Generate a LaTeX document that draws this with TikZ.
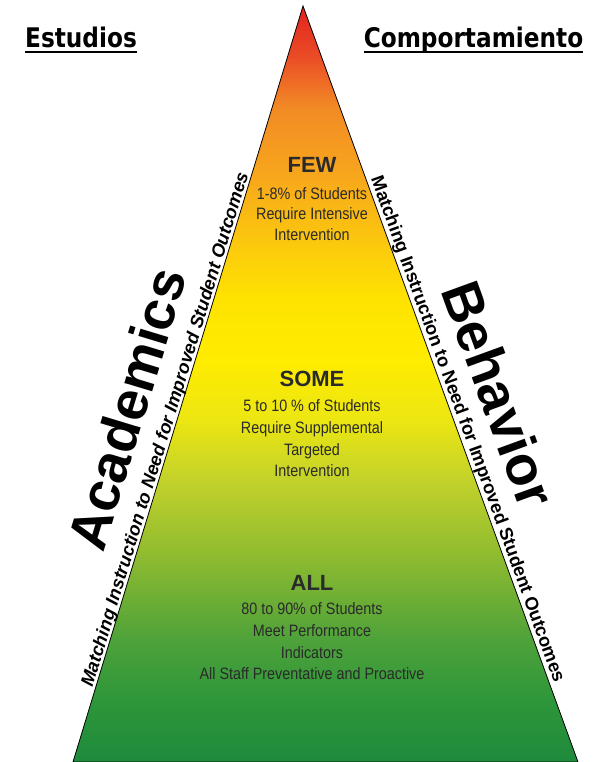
\documentclass[tikz,border=0pt]{standalone}
\usepackage{fontspec}
\setmainfont{Liberation Sans}
\newfontfamily\headfont{DejaVu Sans}
\usetikzlibrary{calc}
\definecolor{txt}{HTML}{2A2A2A}
\definecolor{c00}{HTML}{1E8A3C}
\definecolor{c01}{HTML}{2E963A}
\definecolor{c02}{HTML}{4EA23A}
\definecolor{c03}{HTML}{8CBA30}
\definecolor{c04}{HTML}{C3D22A}
\definecolor{c05}{HTML}{ECE612}
\definecolor{c06}{HTML}{FFEC00}
\definecolor{c07}{HTML}{FEE300}
\definecolor{c08}{HTML}{FBC70E}
\definecolor{c09}{HTML}{F7A41D}
\definecolor{c10}{HTML}{F28A25}
\definecolor{c11}{HTML}{EA4A26}
\definecolor{c12}{HTML}{E2231E}
\pgfdeclareverticalshading{pyr}{100bp}{color(0bp)=(c00); color(25bp)=(c00); color(29.1bp)=(c01); color(33.1bp)=(c02); color(38.4bp)=(c03); color(43.7bp)=(c04); color(47.6bp)=(c05); color(51.6bp)=(c06); color(55.6bp)=(c07); color(59.5bp)=(c08); color(64.2bp)=(c09); color(68.3bp)=(c10); color(71.8bp)=(c11); color(75bp)=(c12); color(100bp)=(c12)}
\begin{document}
\begin{tikzpicture}[x=1pt,y=-1pt,
  hdr/.style={font=\headfont\bfseries\fontsize{27}{27}\selectfont, inner sep=0, anchor=base, xscale=0.86},
  uline/.style={line width=2.4pt},
  ttl/.style={font=\bfseries\fontsize{22}{22}\selectfont, text=txt, inner sep=0},
  body/.style={font=\fontsize{16.5}{21.7}\selectfont, align=center, text=txt, xscale=0.87, inner sep=0},
  big/.style={font=\bfseries\fontsize{55}{55}\selectfont, inner sep=0, anchor=base},
  side/.style={font=\bfseries\fontsize{18.3}{18.3}\selectfont, inner sep=0, anchor=base},
  edge/.style={draw=black, line width=0.8pt}]
\fill[white] (0,0) rectangle (602,762);
\useasboundingbox (0,0) rectangle (602,762);
\coordinate (apex) at (303,6);
\coordinate (bl) at (73,762);
\coordinate (br) at (578,762);
\shadedraw[shading=pyr, edge] (apex) -- (br) -- (bl) -- cycle;

\node[hdr] (est) at (81,48) {Estudios};
\node[hdr] (comp) at (473.5,48) {Comportamiento};
\draw[uline] ([yshift=-4pt]est.base west) -- ([yshift=-4pt]est.base east);
\draw[uline] ([yshift=-4pt]comp.base west) -- ([yshift=-4pt]comp.base east);

\node[ttl] (few) at (312,165) {FEW};
\node[body, font=\fontsize{16.5}{20.5}\selectfont] (fewtxt) at (312,214) {1-8\% of Students\\Require Intensive\\Intervention};
\node[ttl] (some) at (312,379) {SOME};
\node[body] (sometxt) at (312,438.5) {5 to 10 \% of Students\\Require Supplemental\\Targeted\\Intervention};
\node[ttl] (all) at (312,583) {ALL};
\node[body] (alltxt) at (312,641.5) {80 to 90\% of Students\\Meet Performance\\Indicators\\All Staff Preventative and Proactive};

\node[big, rotate=73.08] (acad) at (145.4,414.4) {Academics};
\node[big, rotate=-70.01] (behav) at (480.6,400.6) {Behavior};
\node[side, font=\bfseries\itshape\fontsize{18.3}{18.3}\selectfont, rotate=73.08] (lside) at (170.5,431.1) {Matching Instruction to Need for Improved Student Outcomes};
\node[side, rotate=-70.01] (rside) at (462.5,431.0) {Matching Instruction to Need for Improved Student Outcomes};
\end{tikzpicture}
\end{document}
